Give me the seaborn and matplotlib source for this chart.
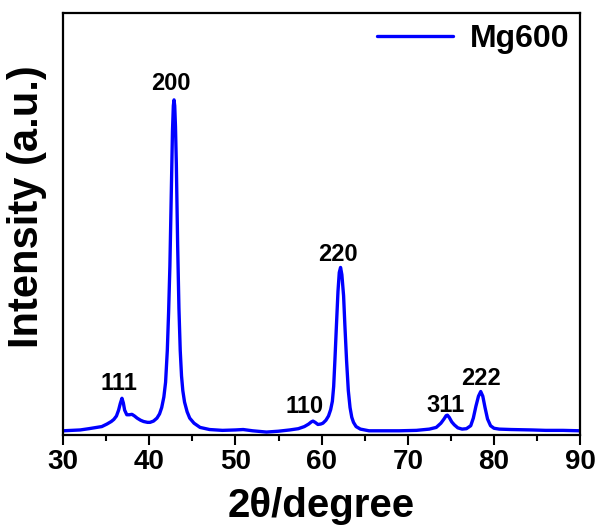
import matplotlib
matplotlib.use("Agg")
import matplotlib.pyplot as plt
import seaborn as sns
import pandas as pd
from matplotlib.ticker import MultipleLocator

# ---- data ----
two_theta = [30.0, 31.0, 32.0, 33.0, 33.6, 34.5, 35.1, 35.6, 35.9, 36.2, 36.45, 36.65,
             36.84, 37.0, 37.15, 37.4, 37.7, 38.0, 38.3, 38.6, 39.0, 39.35, 39.8, 40.1,
             40.5, 40.9, 41.2, 41.45, 41.7, 41.9, 42.1, 42.25, 42.4, 42.55, 42.7, 42.8,
             42.88, 42.96, 43.05, 43.15, 43.3, 43.45, 43.6, 43.75, 43.9, 44.1, 44.4, 44.7,
             45.2, 45.9, 47.0, 48.5, 50.0, 50.9, 52.0, 53.6, 55.0, 56.3, 57.3, 58.0,
             58.5, 58.8, 59.0, 59.25, 59.57, 59.9, 60.15, 60.5, 60.8, 61.05, 61.25, 61.4,
             61.55, 61.7, 61.9, 62.05, 62.2, 62.35, 62.55, 62.7, 62.9, 63.1, 63.3, 63.5,
             63.7, 64.0, 64.5, 65.5, 67.0, 69.0, 71.0, 72.5, 73.3, 73.84, 74.2, 74.45,
             74.6, 74.8, 75.1, 75.4, 75.8, 76.3, 76.8, 77.3, 77.6, 77.9, 78.2, 78.46,
             78.7, 78.96, 79.25, 79.6, 80.0, 80.6, 82.0, 84.4, 86.0, 88.0, 90.0]
intensity = [10, 11, 12, 15, 17, 20, 26, 32, 37, 45, 59, 75,
             87, 76, 59, 48, 48, 49, 45, 40, 35, 32, 30, 30,
             33, 40, 50, 65, 90, 125, 200, 290, 400, 560, 720, 780,
             794, 780, 730, 640, 450, 300, 200, 140, 105, 78, 55, 40,
             28, 18, 13, 11, 12, 13, 10, 7, 9, 12, 15, 20,
             26, 31, 33, 30, 25, 26, 28, 35, 45, 60, 80, 115,
             180, 250, 340, 385, 397, 380, 330, 260, 175, 105, 65, 42,
             30, 20, 14, 10, 10, 10, 11, 14, 18, 28, 38, 46,
             47, 42, 31, 24, 17, 14, 15, 22, 40, 68, 92, 103,
             92, 65, 38, 22, 16, 14, 13, 12, 11, 11, 10]

peak_labels = ["111", "200", "110", "220", "311", "222"]
label_x = [36.5, 42.55, 58.0, 61.85, 74.4, 78.46]
label_y = [123, 832, 67, 427, 71, 135]

x_ticks = [30, 40, 50, 60, 70, 80, 90]
series_name = "Mg600"

# ---- plotting ----
sns.set_style("ticks")
plt.rcParams['font.family'] = ['Liberation Sans', 'DejaVu Sans']
plt.rcParams['font.weight'] = 'bold'
plt.rcParams['text.color'] = 'black'
plt.rcParams['axes.labelcolor'] = 'black'
plt.rcParams['xtick.color'] = 'black'
plt.rcParams['ytick.color'] = 'black'

fig = plt.figure(figsize=(6, 5.25), dpi=100)
ax = fig.add_axes([0.105, 0.1714, 0.862, 0.804])

df = pd.DataFrame({"two_theta": two_theta, "intensity": intensity})
sns.lineplot(data=df, x="two_theta", y="intensity", ax=ax, color="#0000FF",
             linewidth=2.4, label=series_name, sort=False, estimator=None)

for t, xx, yy in zip(peak_labels, label_x, label_y):
    ax.text(xx, yy, t, ha="center", va="center", fontsize=17, fontweight="bold",
            color="black")

ax.set_xlim(30, 90)
ax.set_ylim(0, 1000)
ax.set_xticks(x_ticks)
ax.xaxis.set_minor_locator(MultipleLocator(5))
ax.set_yticks([])
ax.tick_params(axis="x", which="major", direction="out", length=7, width=1.5,
               labelsize=20, pad=3, colors="black")
ax.tick_params(axis="x", which="minor", direction="out", length=4, width=1.5,
               colors="black")
for lab in ax.get_xticklabels():
    lab.set_fontweight("bold")
for sp in ax.spines.values():
    sp.set_visible(True)
    sp.set_linewidth(1.6)
    sp.set_color("black")

ax.set_xlabel("2θ/degree", fontsize=29, fontweight="bold", labelpad=9, color="black")
ax.set_ylabel("Intensity (a.u.)", fontsize=30, fontweight="bold", color="black")
ax.yaxis.set_label_coords(-0.03, 0.54)

leg = ax.legend(loc="upper right", frameon=False, fontsize=23, handlelength=2.4,
                handletextpad=0.5, borderaxespad=0.15, borderpad=0.2)
for txt in leg.get_texts():
    txt.set_fontweight("bold")
    txt.set_color("black")

fig.savefig("out.png", dpi=100)
